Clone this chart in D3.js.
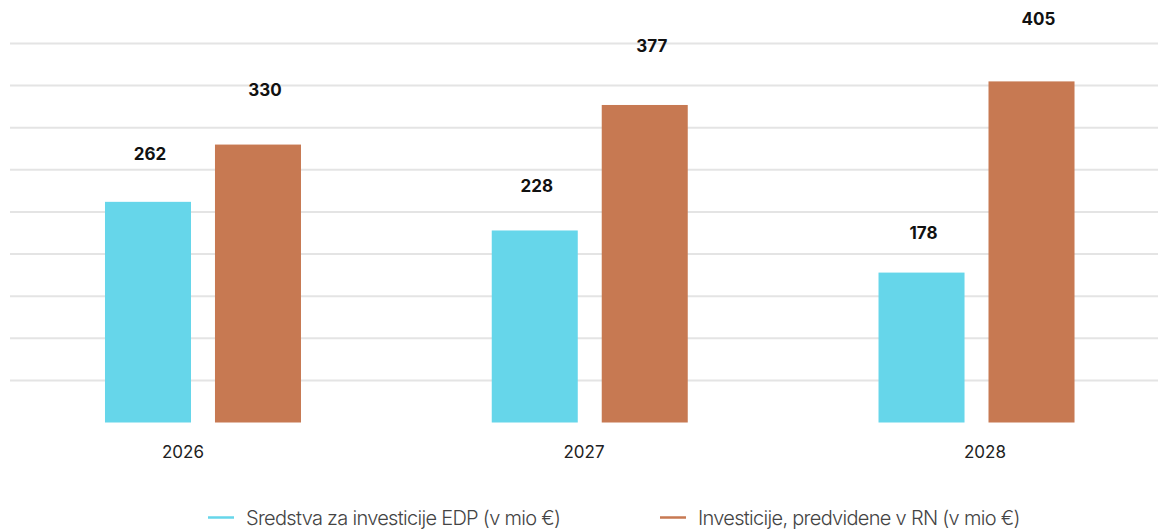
<!DOCTYPE html>
<html>
<head>
<meta charset="utf-8">
<script src="https://cdn.jsdelivr.net/npm/d3@7"></script>
<style>
  html, body { margin: 0; padding: 0; background: #fff; }
  svg { display: block; font-family: Inter, "Noto Sans", sans-serif; }
</style>
</head>
<body>
<svg id="chart" width="1158" height="529"></svg>
<script>
// Investment data, million EUR
const years = ["2026", "2027", "2028"];
const seriesNames = ["Sredstva za investicije EDP (v mio €)", "Investicije, predvidene v RN (v mio €)"];
const edpFunds = [262, 228, 178];
const rnInvestments = [330, 377, 405];
const gridTicks = [50, 100, 150, 200, 250, 300, 350, 400, 450];

const colors = ["#66d6ea", "#c77952"];
const series = [edpFunds, rnInvestments];

const svg = d3.select("#chart");
const W = 1158;
const baseline = 422.5;

const y = d3.scaleLinear().domain([0, 450]).range([baseline, baseline - 379]);
// value labels sit on their own slightly compressed scale above the bars
const yLabel = d3.scaleLinear().domain([0, 450]).range([baseline - 15, baseline - 15 - 424.8]);

const x = d3.scaleBand().domain(years).range([9.6, 1169.9]).padding(0);
const xInner = d3.scaleBand().domain([0, 1]).paddingInner(0.218).paddingOuter(0);
const xAxisLabels = d3.scaleBand().domain(years).range([-17.5, 1185.5]).padding(0);

// gridlines
svg.append("g").selectAll("line")
  .data(gridTicks)
  .join("line")
  .attr("x1", 10).attr("x2", W)
  .attr("y1", d => y(d)).attr("y2", d => y(d))
  .attr("stroke", "#e4e4e4")
  .attr("stroke-width", 2);

// bars
const groups = svg.append("g").selectAll("g")
  .data(years)
  .join("g")
  .attr("transform", d => `translate(${x(d) + x.bandwidth() / 2 - 98},0)`);

xInner.range([0, 196]);

groups.selectAll("rect")
  .data((d, i) => series.map((s, k) => ({ k, v: s[i] })))
  .join("rect")
  .attr("x", d => xInner(d.k))
  .attr("width", xInner.bandwidth())
  .attr("y", d => y(d.v))
  .attr("height", d => baseline - y(d.v))
  .attr("fill", d => colors[d.k]);

const labelDx = [2, 7];
groups.selectAll("text")
  .data((d, i) => series.map((s, k) => ({ k, v: s[i] })))
  .join("text")
  .attr("x", d => xInner(d.k) + xInner.bandwidth() / 2 + labelDx[d.k])
  .attr("y", d => yLabel(d.v))
  .attr("text-anchor", "middle")
  .attr("font-size", 17)
  .attr("font-weight", 700)
  .attr("fill", "#111")
  .text(d => d.v);

// category labels
svg.append("g").selectAll("text")
  .data(years)
  .join("text")
  .attr("x", d => xAxisLabels(d) + xAxisLabels.bandwidth() / 2)
  .attr("y", 458)
  .attr("text-anchor", "middle")
  .attr("font-size", 17)
  .attr("fill", "#222")
  .text(d => d);

// legend
const legendX = [208, 660];
const legend = svg.append("g").selectAll("g")
  .data(seriesNames)
  .join("g")
  .attr("transform", (d, i) => `translate(${legendX[i]},0)`);

legend.append("line")
  .attr("x1", 0).attr("x2", 26)
  .attr("y1", 517.5).attr("y2", 517.5)
  .attr("stroke", (d, i) => colors[i])
  .attr("stroke-width", 2.5);

legend.append("text")
  .attr("x", 38)
  .attr("y", 525)
  .attr("font-size", 20)
  .attr("font-weight", 300)
  .attr("letter-spacing", -0.7)
  .attr("fill", "#444")
  .text(d => d);
</script>
</body>
</html>
